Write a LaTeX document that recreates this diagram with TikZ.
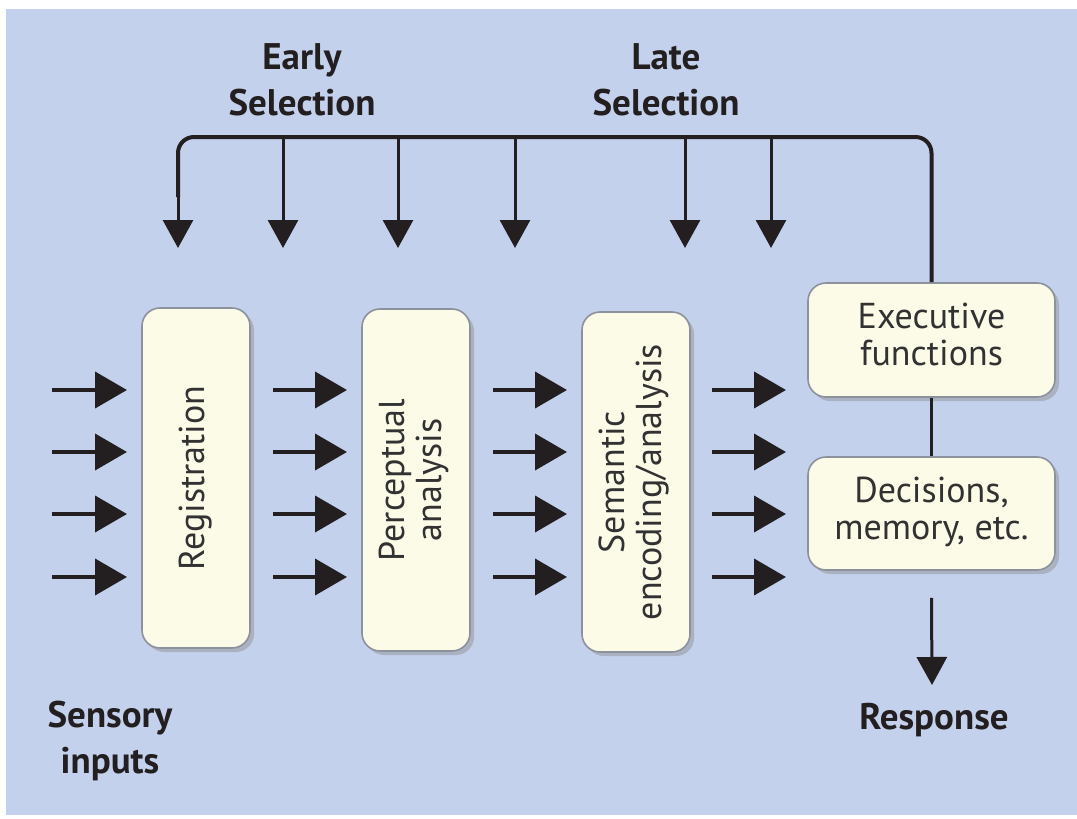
\documentclass[tikz,border=0pt]{standalone}
\usepackage{fontspec}
\setmainfont{PT Sans}
\usetikzlibrary{arrows.meta,shadows}
\definecolor{bgblue}{RGB}{196,209,236}
\definecolor{boxfill}{RGB}{252,251,232}
\definecolor{boxline}{RGB}{140,146,156}
\definecolor{ink}{RGB}{35,31,32}
\definecolor{txt}{RGB}{50,50,50}
\tikzset{
  box/.style={draw=boxline, line width=0.8pt, fill=boxfill, rounded corners=9pt,
    inner sep=0pt, text=txt, font=\fontsize{18}{18.5}\selectfont,
    drop shadow={shadow xshift=2pt, shadow yshift=-2pt, fill=black!45, opacity=0.45}},
  lbl/.style={font=\fontsize{18.5}{23}\selectfont\bfseries, text=ink, align=center},
  harr/.style={draw=ink, line width=2pt, -{Triangle[length=16pt,width=18pt]}},
  varr/.style={draw=ink, line width=1.5pt, -{Triangle[length=14pt,width=15pt]}},
  brk/.style={draw=ink, line width=2pt},
}
\begin{document}
\begin{tikzpicture}[x=0.5pt,y=-0.5pt]
\useasboundingbox (0,0) rectangle (1077,819);
\fill[white] (0,0) rectangle (1077,819);
\fill[bgblue] (6,9) rectangle (1077,815);

% processing boxes
\node[box, minimum width=54pt, minimum height=170pt] (reg) at (196,478)
  {\rotatebox{90}{Registration}};
\node[box, minimum width=54pt, minimum height=171pt] (per) at (416,480)
  {\rotatebox{90}{\begin{tabular}{@{}c@{}}Perceptual\\analysis\end{tabular}}};
\node[box, minimum width=54pt, minimum height=170pt] (sem) at (636,482)
  {\rotatebox{90}{\begin{tabular}{@{}c@{}}Semantic\\encoding/analysis\end{tabular}}};
\node[box, minimum width=123.5pt, minimum height=57pt] (exec) at (931.5,340)
  {\begin{tabular}{@{}c@{}}Executive\\functions\end{tabular}};
\node[box, minimum width=123.5pt, minimum height=56.5pt] (dec) at (931.5,513.5)
  {\begin{tabular}{@{}c@{}}Decisions,\\memory, etc.\end{tabular}};

% labels
\node[lbl] (early) at (302,80) {Early\\Selection};
\node[lbl] (late) at (666,80) {Late\\Selection};
\node[lbl] (sens) at (110,741) {Sensory\\inputs};
\node[lbl] (resp) at (934,720) {Response};

% selection bracket
\coordinate (tl) at (178,137);
\coordinate (t1) at (178,248);
\draw[brk, rounded corners=8pt] (exec.north) |- (tl) -- ([yshift=-30pt]tl);
\draw[varr] ([yshift=-30pt]tl) -- (t1);
\foreach \i/\x in {2/283,3/398,4/515,5/685,6/771}{
  \coordinate (s\i) at (\x,137);
  \coordinate (t\i) at (\x,248);
  \draw[varr] (s\i) -- (t\i);
}

% horizontal arrows
\foreach \r/\y in {1/390,2/452,3/514,4/577}{
  \coordinate (a\r) at (52,\y);  \coordinate (b\r) at (127,\y);
  \coordinate (c\r) at (273,\y); \coordinate (d\r) at (347,\y);
  \coordinate (e\r) at (493,\y); \coordinate (f\r) at (567,\y);
  \coordinate (g\r) at (712,\y); \coordinate (h\r) at (786,\y);
  \draw[harr] (a\r) -- (b\r);
  \draw[harr] (c\r) -- (d\r);
  \draw[harr] (e\r) -- (f\r);
  \draw[harr] (g\r) -- (h\r);
}

% executive to decisions
\draw[brk, line width=1.5pt] (exec.south) -- (dec.north);

% response arrow
\coordinate (rtip) at (932,685);
\draw[varr] ([yshift=-13.5pt]dec.south) -- (rtip);
\end{tikzpicture}
\end{document}
